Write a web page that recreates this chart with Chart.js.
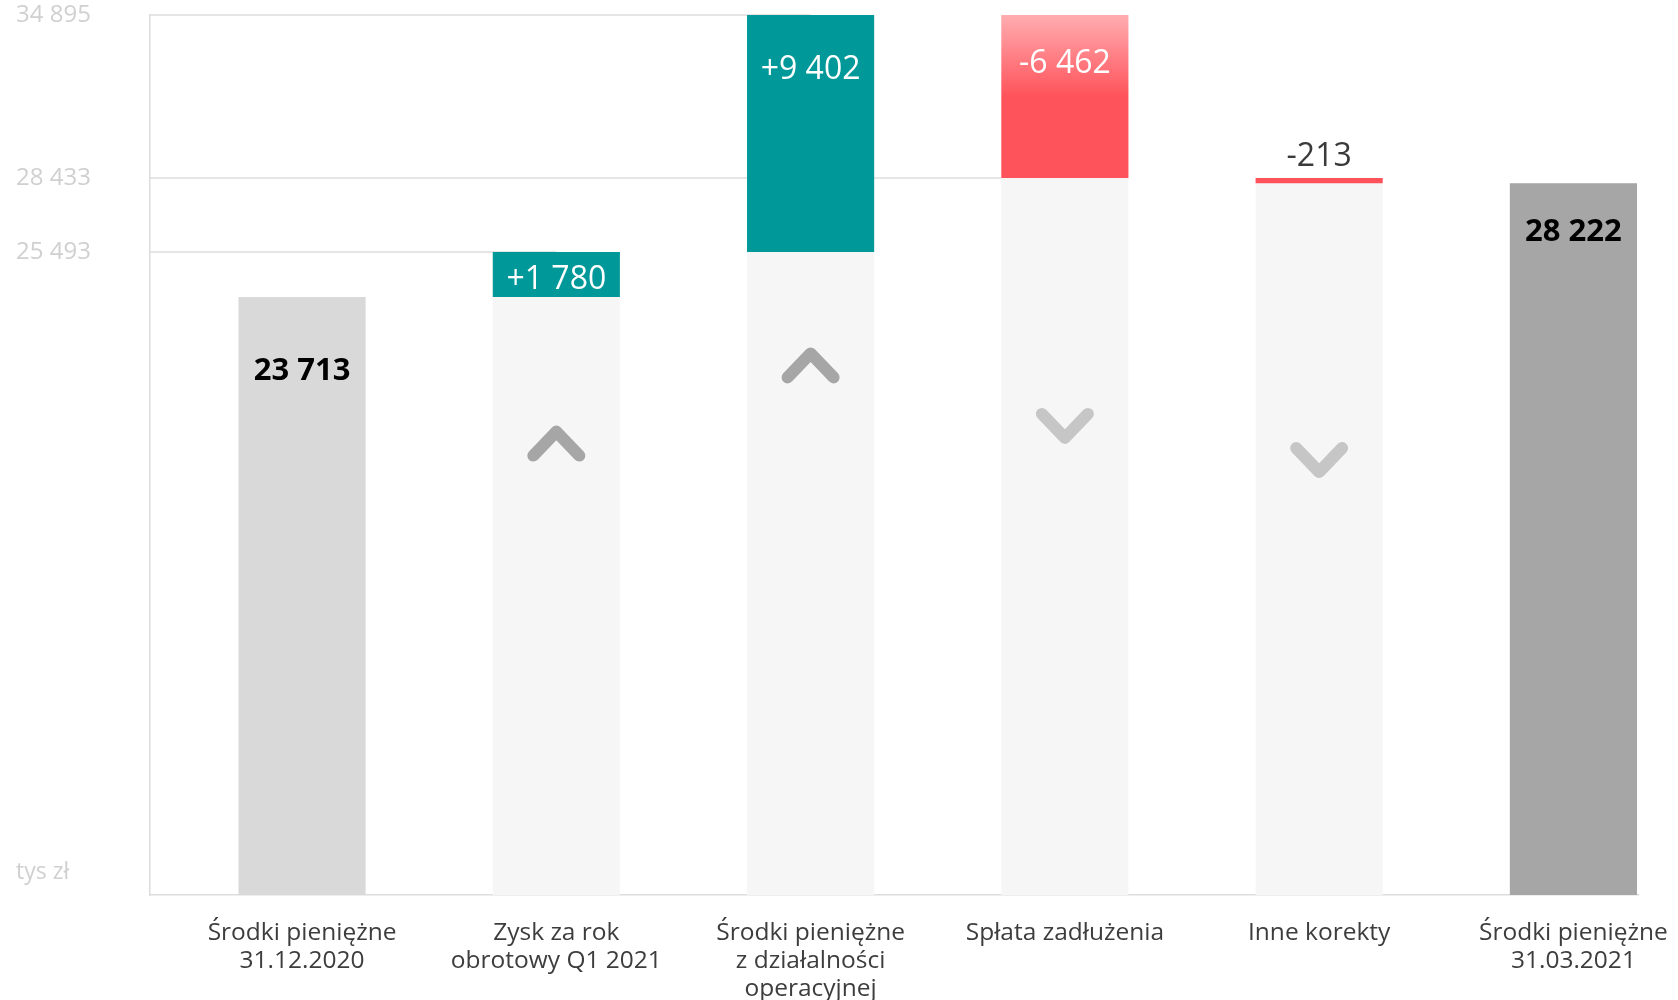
<!DOCTYPE html>
<html lang="pl">
<head>
<meta charset="utf-8">
<title>Środki pieniężne</title>
<script src="https://cdn.jsdelivr.net/npm/chart.js@4/dist/chart.umd.min.js"></script>
<style>
  html, body { margin: 0; padding: 0; background: #fff; }
  #box { width: 1678px; height: 1000px; position: relative; }
</style>
</head>
<body>
<div id="box"><canvas id="wodospad"></canvas></div>
<script>
// dane (tys zl)
const kategorie = [
  ["Środki pieniężne", "31.12.2020"],
  ["Zysk za rok", "obrotowy Q1 2021"],
  ["Środki pieniężne", "z działalności", "operacyjnej"],
  ["Spłata zadłużenia"],
  ["Inne korekty"],
  ["Środki pieniężne", "31.03.2021"]
];
const stanPoczatkowy = 23713;
const zmiany = [1780, 9402, -6462, -213];
const stanKoncowy = 28222;
const etykietyOsiY = [34895, 28433, 25493];
const poziomStrzalek = [17900, 21000, 18600, 17250]; // gdzie stoja strzalki

// wyglad
const kolorTla = ['#d9d9d9', '#f6f6f6', '#f6f6f6', '#f6f6f6', '#f6f6f6', '#a6a6a6'];
const przesuniecieEtykiet = [74, 28, 55, 49, -21, 49]; // px od gory slupka
const TURKUS = '#009898';
const CZERWONY = '#ff525a';

const fmt = (n, znak) => {
  const s = Math.abs(n).toString().replace(/\B(?=(\d{3})+(?!\d))/g, ' ');
  if (!znak) return s;
  return (n >= 0 ? '+' : '-') + s;
};

// slupki wodospadu
const tloDane = [{x: 0, y: [0, stanPoczatkowy]}];
const zmianaDane = [];
let poziom = stanPoczatkowy;
let szczyt = stanPoczatkowy;
zmiany.forEach((z, i) => {
  const nowy = poziom + z;
  tloDane.push({x: i + 1, y: [0, Math.min(poziom, nowy)]});
  zmianaDane.push({x: i + 1, y: [Math.min(poziom, nowy), Math.max(poziom, nowy)]});
  szczyt = Math.max(szczyt, nowy);
  poziom = nowy;
});
tloDane.push({x: kategorie.length - 1, y: [0, stanKoncowy]});

Chart.defaults.font.family = '"Open Sans", sans-serif';

// linie od osi do slupka
const linieLaczace = {
  id: 'linieLaczace',
  beforeDatasetsDraw(chart) {
    const {ctx, chartArea} = chart;
    const y = chart.scales.y;
    const meta = chart.getDatasetMeta(1);
    ctx.save();
    ctx.strokeStyle = '#dddddd';
    ctx.lineWidth = 1.5;
    etykietyOsiY.forEach(v => {
      const j = zmianaDane.findIndex(d => d.y[0] === v || d.y[1] === v);
      if (j < 0) return;
      const el = meta.data[j];
      const py = y.getPixelForValue(v);
      ctx.beginPath();
      ctx.moveTo(chartArea.left, py);
      ctx.lineTo(el.x, py);
      ctx.stroke();
    });
    ctx.restore();
  }
};

const strzalkiIEtykiety = {
  id: 'strzalkiIEtykiety',
  afterDatasetsDraw(chart) {
    const {ctx, chartArea} = chart;
    const x = chart.scales.x, y = chart.scales.y;
    ctx.save();
    // strzalki
    ctx.lineWidth = 12;
    ctx.lineCap = 'round';
    ctx.lineJoin = 'round';
    zmiany.forEach((z, j) => {
      const cx = x.getPixelForValue(j + 1);
      const cy = y.getPixelForValue(poziomStrzalek[j]);
      const k = z > 0 ? -1 : 1;
      ctx.strokeStyle = z > 0 ? '#a6a6a6' : '#c6c6c6';
      ctx.beginPath();
      ctx.moveTo(cx - 23, cy - k * 12);
      ctx.lineTo(cx, cy + k * 12);
      ctx.lineTo(cx + 23, cy - k * 12);
      ctx.stroke();
    });

    ctx.textAlign = 'center';
    ctx.textBaseline = 'middle';
    // sumy
    [[0, stanPoczatkowy], [kategorie.length - 1, stanKoncowy]].forEach(([i, v]) => {
      ctx.font = 'bold 31px "Open Sans"';
      ctx.fillStyle = '#000';
      ctx.fillText(fmt(v), x.getPixelForValue(i), y.getPixelForValue(v) + przesuniecieEtykiet[i]);
    });
    // zmiany
    zmiany.forEach((z, j) => {
      const gora = y.getPixelForValue(zmianaDane[j].y[1]);
      const off = przesuniecieEtykiet[j + 1];
      ctx.font = '32px "Open Sans"';
      ctx.fillStyle = off < 0 ? '#3a3a3a' : '#ffffff';
      ctx.fillText(fmt(z, true), x.getPixelForValue(j + 1), gora + off);
    });

    // jednostka
    ctx.textAlign = 'left';
    ctx.font = '23px "Open Sans"';
    ctx.fillStyle = '#d0d0d0';
    ctx.fillText('tys zł', 16, chartArea.bottom - 23);
    ctx.restore();
  }
};

new Chart(document.getElementById('wodospad'), {
  type: 'bar',
  data: {
    datasets: [
      {
        data: tloDane,
        backgroundColor: kolorTla,
        grouped: false,
        order: 2
      },
      {
        data: zmianaDane,
        grouped: false,
        order: 1,
        backgroundColor: (c) => {
          const z = zmiany[c.dataIndex];
          if (z > 0) return TURKUS;
          const y = c.chart.scales.y;
          if (!y || !c.chart.chartArea) return CZERWONY;
          const r = zmianaDane[c.dataIndex].y;
          const top = y.getPixelForValue(r[1]);
          const bot = y.getPixelForValue(r[0]);
          if (bot - top < 40) return CZERWONY;
          const g = c.chart.ctx.createLinearGradient(0, top, 0, bot);
          g.addColorStop(0, '#ffadb0');
          g.addColorStop(0.5, '#ff535b');
          g.addColorStop(1, '#ff535b');
          return g;
        }
      }
    ]
  },
  options: {
    responsive: true,
    maintainAspectRatio: false,
    animation: false,
    barPercentage: 0.5,
    categoryPercentage: 1,
    layout: { padding: { top: 15, left: 16, right: 40, bottom: 0 } },
    plugins: { legend: { display: false }, tooltip: { enabled: false } },
    scales: {
      x: {
        type: 'linear',
        min: -0.598,
        max: 5.254,
        offset: false,
        grid: { display: false, drawTicks: false },
        border: { display: true, color: '#dddddd', width: 1.5 },
        afterBuildTicks: (s) => { s.ticks = kategorie.map((_, i) => ({ value: i })); },
        afterFit: (s) => { s.height = 105; s.paddingLeft = 0; s.paddingRight = 0; },
        ticks: {
          autoSkip: false,
          maxRotation: 0,
          padding: 24,
          color: '#3d3d3d',
          font: { size: 24.5, lineHeight: 1.15 },
          callback: (v) => kategorie[v]
        }
      },
      y: {
        min: 0,
        max: szczyt,
        grid: { display: false, drawTicks: false },
        border: { display: true, color: '#dddddd', width: 1.5 },
        afterBuildTicks: (s) => { s.ticks = etykietyOsiY.map(v => ({ value: v })); },
        afterFit: (s) => { s.width = 134; },
        ticks: {
          crossAlign: 'far',
          padding: 0,
          color: '#d0d0d0',
          font: { size: 24 },
          callback: (v) => fmt(v)
        }
      }
    }
  },
  plugins: [linieLaczace, strzalkiIEtykiety]
});
</script>
</body>
</html>
